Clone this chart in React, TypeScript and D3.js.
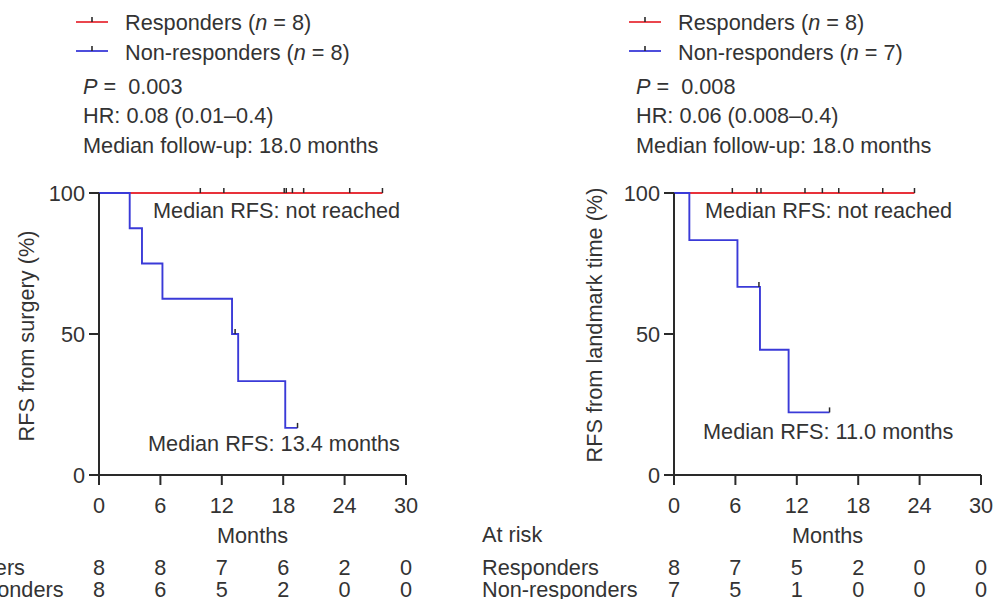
import React from "react";
import * as d3 from "d3";

// ---- data ----
const tickMonths = [0, 6, 12, 18, 24, 30];
const yTicks = [0, 50, 100];

// Left panel: RFS from surgery
const leftRespCensor = [9.9, 12.2, 18.1, 18.3, 18.9, 20.0, 24.5, 27.7];
const leftNonEventTimes = [3.0, 4.2, 6.2, 13.0, 13.6, 18.2];
const leftNonSurv = [87.5, 75, 62.5, 50, 33.3, 16.7];
const leftNonCensor = [13.3, 19.4];
const leftRiskResp = [8, 8, 7, 6, 2, 0];
const leftRiskNon = [8, 6, 5, 2, 0, 0];

// Right panel: RFS from landmark time
const rightRespCensor = [5.7, 8.1, 8.5, 12.8, 14.5, 16.1, 20.4, 23.5];
const rightNonEventTimes = [1.5, 6.2, 8.4, 11.2];
const rightNonSurv = [83.3, 66.7, 44.4, 22.2];
const rightNonCensor = [8.3, 15.2];
const rightRiskResp = [8, 7, 5, 2, 0, 0];
const rightRiskNon = [7, 5, 1, 0, 0, 0];

const RED = "#e8313a";
const BLUE = "#3a3ad8";
const AX = "#2a2a2a";
const TXT = "#333333";
const FONT = "'Liberation Sans', Arial, Helvetica, sans-serif";
const FS = 21.7;

function survAt(t: number, times: number[], surv: number[]) {
  let s = 100;
  for (let i = 0; i < times.length; i++) if (times[i] <= t) s = surv[i];
  return s;
}

type PanelProps = {
  x0: number; x1: number; y0: number; y1: number;
  legendLineX: number; legendTextX: number; statsX: number;
  nResp: number; nNon: number; p: string; hr: string;
  yLabel: string; yLabelX: number; yLabelY: number;
  respCensor: number[]; nonTimes: number[]; nonSurv: number[]; nonCensor: number[];
  riskResp: number[]; riskNon: number[];
  riskLabelX: number;
  medTopX: number; medBotX: number; medBotY: number; medBot: string;
};

function Panel(p: PanelProps) {
  const x = d3.scaleLinear().domain([0, 30]).range([p.x0, p.x1]);
  const y = d3.scaleLinear().domain([0, 100]).range([p.y0, p.y1]);
  const line = d3.line<[number, number]>().x(d => x(d[0])).y(d => y(d[1])).curve(d3.curveStepAfter);

  const respEnd = d3.max(p.respCensor) as number;
  const respPts: [number, number][] = [[0, 100], [respEnd, 100]];
  const nonEnd = Math.max(d3.max(p.nonCensor) as number, d3.max(p.nonTimes) as number);
  const nonPts: [number, number][] = [[0, 100]];
  p.nonTimes.forEach((t, i) => nonPts.push([t, p.nonSurv[i]]));
  nonPts.push([nonEnd, p.nonSurv[p.nonSurv.length - 1]]);

  const tk = 5;
  const legendRows = [
    { color: RED, label: "Responders", n: p.nResp, y: 22, ty: 30 },
    { color: BLUE, label: "Non-responders", n: p.nNon, y: 51, ty: 60 },
  ];
  return (
    <g fontFamily={FONT} fontSize={FS} fill={TXT}>
      {legendRows.map((r, i) => (
        <g key={i}>
          <line x1={p.legendLineX} x2={p.legendLineX + 32} y1={r.y} y2={r.y} stroke={r.color} strokeWidth={1.8} />
          <line x1={p.legendLineX + 16} x2={p.legendLineX + 16} y1={r.y} y2={r.y - tk} stroke={AX} strokeWidth={1.6} />
          <text x={p.legendTextX} y={r.ty}>
            {r.label} (<tspan fontStyle="italic">n</tspan> = {r.n})
          </text>
        </g>
      ))}
      <text x={p.statsX} y={94} xmlSpace="preserve">
        <tspan fontStyle="italic">P</tspan>{" =  " + p.p}
      </text>
      <text x={p.statsX} y={123}>{p.hr}</text>
      <text x={p.statsX} y={153}>Median follow-up: 18.0 months</text>

      {/* y label */}
      <text transform={`translate(${p.yLabelX},${p.yLabelY}) rotate(-90)`} textAnchor="middle">{p.yLabel}</text>

      {/* curves */}
      <path d={line(respPts) as string} fill="none" stroke={RED} strokeWidth={1.9} />
      <path d={line(nonPts) as string} fill="none" stroke={BLUE} strokeWidth={1.9} />
      {p.respCensor.map((t, i) => (
        <line key={"rc" + i} x1={x(t)} x2={x(t)} y1={y(100)} y2={y(100) - tk} stroke={AX} strokeWidth={1.5} />
      ))}
      {p.nonCensor.map((t, i) => {
        const s = survAt(t, p.nonTimes, p.nonSurv);
        return <line key={"nc" + i} x1={x(t)} x2={x(t)} y1={y(s)} y2={y(s) - tk} stroke={AX} strokeWidth={1.5} />;
      })}

      {/* axes */}
      <line x1={p.x0} x2={p.x0} y1={y(0)} y2={y(100)} stroke={AX} strokeWidth={2} />
      <line x1={p.x0} x2={p.x1} y1={y(0)} y2={y(0)} stroke={AX} strokeWidth={2} />
      {yTicks.map(v => (
        <g key={"yt" + v}>
          <line x1={p.x0 - 10} x2={p.x0} y1={y(v)} y2={y(v)} stroke={AX} strokeWidth={2} />
          <text x={p.x0 - 14} y={y(v) + 7.5} textAnchor="end">{v}</text>
        </g>
      ))}
      {tickMonths.map(v => (
        <g key={"xt" + v}>
          <line x1={x(v)} x2={x(v)} y1={y(0)} y2={y(0) + 10} stroke={AX} strokeWidth={2} />
          <text x={x(v)} y={513} textAnchor="middle">{v}</text>
        </g>
      ))}
      <text x={(p.x0 + p.x1) / 2} y={543} textAnchor="middle">Months</text>

      <text x={p.medTopX} y={218}>Median RFS: not reached</text>
      <text x={p.medBotX} y={p.medBotY}>{p.medBot}</text>

      {/* at risk */}
      <text x={p.riskLabelX} y={542}>At risk</text>
      <text x={p.riskLabelX} y={575}>Responders</text>
      <text x={p.riskLabelX} y={597}>Non-responders</text>
      {tickMonths.map((v, i) => (
        <g key={"r" + v}>
          <text x={x(v)} y={575} textAnchor="middle">{p.riskResp[i]}</text>
          <text x={x(v)} y={597} textAnchor="middle">{p.riskNon[i]}</text>
        </g>
      ))}
    </g>
  );
}

export default function App() {
  return (
    <svg width={993} height={599} style={{ position: "absolute", left: 0, top: 0, background: "#fff" }}>
      <rect width={993} height={599} fill="#fff" />
      <Panel
        x0={99} x1={406} y0={475} y1={193}
        legendLineX={76} legendTextX={125} statsX={83}
        nResp={8} nNon={8} p="0.003" hr="HR: 0.08 (0.01–0.4)"
        yLabel="RFS from surgery (%)" yLabelX={34} yLabelY={336}
        respCensor={leftRespCensor} nonTimes={leftNonEventTimes} nonSurv={leftNonSurv} nonCensor={leftNonCensor}
        riskResp={leftRiskResp} riskNon={leftRiskNon} riskLabelX={-92}
        medTopX={153} medBotX={148} medBotY={451} medBot="Median RFS: 13.4 months"
      />
      <Panel
        x0={674} x1={981} y0={475} y1={193}
        legendLineX={629} legendTextX={678} statsX={636}
        nResp={8} nNon={7} p="0.008" hr="HR: 0.06 (0.008–0.4)"
        yLabel="RFS from landmark time (%)" yLabelX={602} yLabelY={325}
        respCensor={rightRespCensor} nonTimes={rightNonEventTimes} nonSurv={rightNonSurv} nonCensor={rightNonCensor}
        riskResp={rightRiskResp} riskNon={rightRiskNon} riskLabelX={482}
        medTopX={705} medBotX={703} medBotY={439} medBot="Median RFS: 11.0 months"
      />
    </svg>
  );
}
